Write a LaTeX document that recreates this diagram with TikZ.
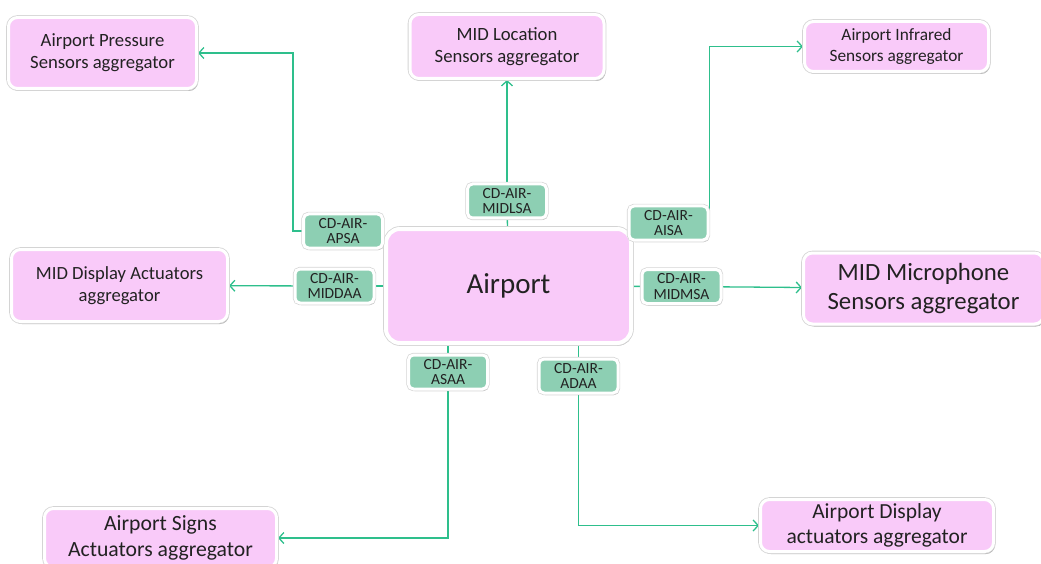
\documentclass[tikz,border=0pt]{standalone}
\usepackage{fontspec}
\setmainfont{Carlito}
\usetikzlibrary{shadows,arrows.meta,backgrounds}
\definecolor{pinkfill}{HTML}{F9CAF9}
\definecolor{lblgreen}{HTML}{8DCFB3}
\definecolor{linec}{HTML}{2EBF8C}
\definecolor{textc}{HTML}{222222}
\begin{document}
\begin{tikzpicture}[x=1pt,y=-1pt,
  rim/.style={general shadow={draw=black!17, line width=#1, fill=black!17}},
  agg/.style={draw=white, line width=3pt, fill=pinkfill, rounded corners=9pt,
    align=center, text=textc, inner sep=0pt,
    drop shadow={shadow xshift=1.5pt, shadow yshift=-2.5pt, opacity=0.3, fill=black},
    rim=4.6pt},
  lbl/.style={draw=white, line width=3pt, fill=lblgreen, rounded corners=5pt,
    align=center, text=textc, inner sep=0pt, minimum width=79pt, minimum height=34pt,
    font=\fontsize{15.5}{15.5}\selectfont,
    drop shadow={shadow xshift=1.2pt, shadow yshift=-2pt, opacity=0.3, fill=black},
    rim=4.4pt},
  conn/.style={draw=linec, line width=1.3pt},
  arr/.style={conn, -{Straight Barb[length=5pt,width=11pt,line width=1.3pt]}}]
\useasboundingbox (0,0) rectangle (1041,564);

% aggregator nodes
\node[agg, minimum width=188pt, minimum height=71pt, font=\fontsize{18.7}{22}\selectfont] (press) at (102.5,53) {Airport Pressure\\Sensors aggregator};
\node[agg, minimum width=194pt, minimum height=64pt, font=\fontsize{18.7}{22}\selectfont] (loc) at (507,46.5) {MID Location\\Sensors aggregator};
\node[agg, minimum width=184pt, minimum height=50pt, font=\fontsize{17.3}{21}\selectfont] (infra) at (896.5,46.5) {Airport Infrared\\Sensors aggregator};
\node[agg, minimum width=216pt, minimum height=72pt, font=\fontsize{18.6}{22}\selectfont] (dispact) at (119.5,285.5) {MID Display Actuators\\aggregator};
\node[agg, line width=4pt, rim=5.6pt, rounded corners=14pt, minimum width=245pt, minimum height=114pt, font=\fontsize{29}{32}\selectfont] (airport) at (508.5,286) {Airport};
\node[agg, minimum width=240pt, minimum height=71pt, font=\fontsize{24.8}{29.5}\selectfont] (micro) at (923.5,288.5) {MID Microphone\\Sensors aggregator};
\node[agg, minimum width=232pt, minimum height=59pt, font=\fontsize{21.7}{26}\selectfont] (signs) at (160.5,538) {Airport Signs\\Actuators aggregator};
\node[agg, minimum width=233pt, minimum height=52pt, font=\fontsize{21.5}{25.5}\selectfont] (dispagg) at (877,525.5) {Airport Display\\actuators aggregator};

% label nodes
\node[lbl] (apsa) at (343,231) {CD-AIR-\\APSA};
\node[lbl] (midlsa) at (507,201) {CD-AIR-\\MIDLSA};
\node[lbl] (aisa) at (668.5,223) {CD-AIR-\\AISA};
\node[lbl] (middaa) at (334.5,286) {CD-AIR-\\MIDDAA};
\node[lbl] (midmsa) at (681.5,286.5) {CD-AIR-\\MIDMSA};
\node[lbl] (asaa) at (448,372) {CD-AIR-\\ASAA};
\node[lbl] (adaa) at (578.5,376) {CD-AIR-\\ADAA};

\begin{pgfonlayer}{background}
\draw[conn] (airport) -- (apsa);
\draw[arr] (apsa.west) -- ++(-9,0) |- (press.east);
\draw[conn] (airport) -- (midlsa);
\draw[arr] (midlsa) -- (loc);
\draw[conn] (airport) -- (aisa);
\draw[arr] (aisa.east) |- (infra.west);
\draw[conn] (airport) -- (middaa);
\draw[arr] (middaa) -- (dispact);
\draw[conn] (airport) -- (midmsa);
\draw[arr] (midmsa) -- (micro);
\draw[conn] (airport.south -| asaa) -- (asaa);
\draw[arr] (asaa) |- (signs.east);
\draw[conn] (airport.south -| adaa) -- (adaa);
\draw[arr] (adaa) |- (dispagg.west);
\end{pgfonlayer}
\end{tikzpicture}
\end{document}
